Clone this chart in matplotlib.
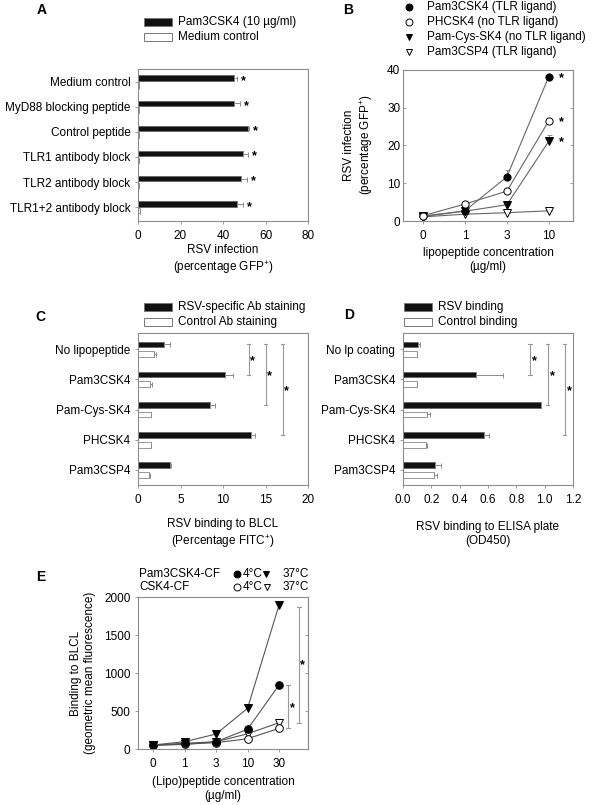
import numpy as np
import matplotlib
matplotlib.use('Agg')
import matplotlib.pyplot as plt
from matplotlib.patches import Rectangle
from matplotlib.lines import Line2D
from matplotlib.ticker import FormatStrFormatter

#%% Data
# A: RSV infection with blocking treatments
conditions_a = ['Medium control', 'MyD88 blocking peptide', 'Control peptide',
                'TLR1 antibody block', 'TLR2 antibody block', 'TLR1+2 antibody block']
pam_a = [45.2, 45.2, 51.9, 49.6, 48.5, 46.4]
pam_a_err = [1.5, 2.8, 0.2, 2.3, 2.6, 2.8]
med_a = [0.4, 0.4, 0.4, 0.5, 0.6, 1.0]
med_a_err = [0.1, 0.1, 0.1, 0.1, 0.1, 0.1]

# B: lipopeptide dose response
conc_b = ['0', '1', '3', '10']
pam3csk4_b = [1.3, 2.7, 11.7, 38.2]
pam3csk4_b_err = [0.2, 0.3, 1.9, 0.4]
phcsk4_b = [1.4, 4.5, 7.9, 26.5]
phcsk4_b_err = [0.2, 0.3, 0.4, 0.4]
pamcys_b = [1.2, 2.6, 4.3, 21.1]
pamcys_b_err = [0.2, 0.3, 0.3, 1.8]
pam3csp4_b = [1.1, 1.8, 2.2, 2.7]
pam3csp4_b_err = [0.1, 0.1, 0.1, 0.2]

# C: RSV binding to BLCL
lipo_c = ['No lipopeptide', 'Pam3CSK4', 'Pam-Cys-SK4', 'PHCSK4', 'Pam3CSP4']
rsv_c = [3.1, 10.2, 8.5, 13.3, 3.8]
rsv_c_err = [0.7, 1.0, 0.6, 0.5, 0.05]
ctrl_c = [1.9, 1.4, 1.5, 1.5, 1.35]
ctrl_c_err = [0.2, 0.2, 0.02, 0.02, 0.02]
sig_c_x = [13.0, 15.0, 17.0]
sig_c_to = [1, 2, 3]

# D: RSV binding to ELISA plate
lipo_d = ['No lp coating', 'Pam3CSK4', 'Pam-Cys-SK4', 'PHCSK4', 'Pam3CSP4']
rsv_d = [0.104, 0.513, 0.974, 0.57, 0.226]
rsv_d_err = [0.016, 0.19, 0.003, 0.04, 0.045]
ctrl_d = [0.099, 0.099, 0.167, 0.162, 0.221]
ctrl_d_err = [0.003, 0.003, 0.023, 0.006, 0.017]
sig_d_x = [0.896, 1.02, 1.14]
sig_d_to = [1, 2, 3]

# E: binding of labelled (lipo)peptides to BLCL
conc_e = ['0', '1', '3', '10', '30']
pam_4c = [52, 75, 96, 260, 842]
pam_37c = [52, 96, 197, 535, 1895]
csk_4c = [50, 65, 83, 135, 272]
csk_37c = [48, 60, 95, 200, 346]
sig_e_x = [4.29, 4.63]

#%% Style
plt.rcParams.update({
    'font.family': ['Liberation Sans', 'DejaVu Sans'],
    'font.size': 8.5,
    'mathtext.fontset': 'custom',
    'mathtext.rm': 'Liberation Sans',
    'mathtext.default': 'regular',
    'axes.edgecolor': '#8c8c8c',
    'axes.linewidth': 0.8,
    'xtick.color': '#8c8c8c',
    'ytick.color': '#8c8c8c',
    'xtick.labelcolor': 'black',
    'ytick.labelcolor': 'black',
    'xtick.major.size': 2.5,
    'ytick.major.size': 2.5,
    'xtick.major.width': 0.6,
    'ytick.major.width': 0.6,
    'xtick.major.pad': 4,
    'ytick.major.pad': 3,
})

W, H = 592, 805
fig = plt.figure(figsize=(W / 100, H / 100), dpi=100)

def fx(x):
    return x / W

def fy(y):
    return 1 - y / H

def px_axes(l, t, r, b):
    return fig.add_axes([fx(l), fy(b), (r - l) / W, (b - t) / H])

def key_box(x, y, text, color):
    # legend key: box with top-left corner at pixel (x, y)
    fig.add_artist(Rectangle((fx(x), fy(y + 8)), 28 / W, 8 / H, transform=fig.transFigure,
                             facecolor=color, edgecolor='#777777', lw=0.7))
    fig.text(fx(x + 34), fy(y + 4), text, ha='left', va='center')

def key_marker(x, y, marker, face, size=5):
    fig.add_artist(Line2D([fx(x)], [fy(y)], marker=marker, mfc=face, mec='black',
                          ms=size, mew=0.7, transform=fig.transFigure))

def label(x, y, text, rotation=0):
    fig.text(fx(x), fy(y), text, ha='center', va='center', rotation=rotation, linespacing=1.3)

def panel(x, y, letter):
    fig.text(fx(x), fy(y), letter, ha='center', va='center', fontsize=10, fontweight='bold')

def right_ticks(ax):
    sec = ax.secondary_yaxis('right')
    sec.tick_params(direction='in', length=2.5, width=0.6, color='#8c8c8c', labelright=False)
    sec.spines['right'].set_color('#8c8c8c')
    sec.spines['right'].set_linewidth(0.8)

def bracket(ax, x, y0, y1, cap, sx, sy):
    ax.plot([x, x], [y0, y1], color='#999999', lw=0.8, clip_on=False)
    ax.plot([x - cap, x + cap], [y0, y0], color='#999999', lw=0.8, clip_on=False)
    ax.plot([x - cap, x + cap], [y1, y1], color='#999999', lw=0.8, clip_on=False)
    ax.text(sx, sy, '*', ha='center', va='center', fontsize=9, fontweight='bold')

err_kw = dict(ecolor='#8c8c8c', capsize=1.8, elinewidth=0.7, capthick=0.7)

#%% Panel A
ax = px_axes(138, 69, 308, 221)
y = np.arange(len(conditions_a))
ax.barh(y - 0.135, pam_a, height=0.22, color='#111111', edgecolor='#555555', lw=0.4,
        xerr=[np.zeros(len(y)), pam_a_err], error_kw=err_kw)
ax.barh(y + 0.135, med_a, height=0.22, color='white', edgecolor='#888888', lw=0.6,
        xerr=[np.zeros(len(y)), med_a_err], error_kw=err_kw)
for i in range(len(y)):
    ax.text(pam_a[i] + pam_a_err[i] + 3.0, y[i] - 0.02, '*', ha='center', va='center',
            fontsize=9, fontweight='bold')
ax.set_yticks(y, conditions_a)
ax.set_ylim(5.55, -0.5)
ax.set_xlim(0, 80)
ax.set_xticks([0, 20, 40, 60, 80])
label(223, 260, 'RSV infection\n(percentage GFP$^{+}$)')
key_box(144, 18, 'Pam3CSK4 (10 µg/ml)', '#111111')
key_box(144, 33, 'Medium control', 'white')
panel(42, 10, 'A')

#%% Panel B
ax = px_axes(403, 70, 573, 221)
x = np.arange(len(conc_b))
series_b = [
    (pam3csp4_b, pam3csp4_b_err, 'v', 'white'),
    (pamcys_b, pamcys_b_err, 'v', 'black'),
    (pam3csk4_b, pam3csk4_b_err, 'o', 'black'),
    (phcsk4_b, phcsk4_b_err, 'o', 'white'),
]
for vals, errs, mk, face in series_b:
    ax.errorbar(x, vals, yerr=[np.zeros(len(x)), errs], color='#666666', lw=0.8,
                marker=mk, mfc=face, mec='black', mew=0.7, ms=5.2, ecolor='#8c8c8c',
                capsize=1.8, elinewidth=0.7, capthick=0.7)
for vals in [pam3csk4_b, phcsk4_b, pamcys_b]:
    ax.text(3.3, vals[-1] - 0.3, '*', ha='center', va='center', fontsize=9, fontweight='bold')
ax.set_xlim(-0.48, 3.58)
ax.set_ylim(0, 40)
ax.set_xticks(x, conc_b)
ax.set_yticks([0, 10, 20, 30, 40])
ax.tick_params(axis='y', direction='in', pad=2)
right_ticks(ax)
label(488, 260, 'lipopeptide concentration\n(µg/ml)')
label(359, 145, 'RSV infection\n(percentage GFP$^{+}$)', rotation=90)
legend_b = [('o', 'black', 'Pam3CSK4 (TLR ligand)'),
            ('o', 'white', 'PHCSK4 (no TLR ligand)'),
            ('v', 'black', 'Pam-Cys-SK4 (no TLR ligand)'),
            ('v', 'white', 'Pam3CSP4 (TLR ligand)')]
for i, (mk, face, txt) in enumerate(legend_b):
    yy = 7 + 15.1 * i
    key_marker(409, yy, mk, face)
    fig.text(fx(427), fy(yy), txt, ha='left', va='center')
panel(348, 10, 'B')

#%% Panel C
ax = px_axes(138, 333, 308, 485)
y = np.arange(len(lipo_c))
ax.barh(y - 0.162, rsv_c, height=0.19, color='#111111', edgecolor='#555555', lw=0.4,
        xerr=[np.zeros(len(y)), rsv_c_err], error_kw=err_kw)
ax.barh(y + 0.162, ctrl_c, height=0.19, color='white', edgecolor='#888888', lw=0.6,
        xerr=[np.zeros(len(y)), ctrl_c_err], error_kw=err_kw)
for sx, k in zip(sig_c_x, sig_c_to):
    bracket(ax, sx, -0.162, k - 0.162, 0.2, sx + 0.5, (k - 0.324) / 2 + 0.05)
ax.set_yticks(y, lipo_c)
ax.set_ylim(4.5, -0.54)
ax.set_xlim(0, 20)
ax.set_xticks([0, 5, 10, 15, 20])
label(223, 534, 'RSV binding to BLCL\n(Percentage FITC$^{+}$)')
key_box(144, 303, 'RSV-specific Ab staining', '#111111')
key_box(144, 318, 'Control Ab staining', 'white')
panel(40, 317, 'C')

#%% Panel D
ax = px_axes(403, 333, 573, 485)
y = np.arange(len(lipo_d))
ax.barh(y - 0.162, rsv_d, height=0.19, color='#111111', edgecolor='#555555', lw=0.4,
        xerr=[np.zeros(len(y)), rsv_d_err], error_kw=err_kw)
ax.barh(y + 0.162, ctrl_d, height=0.19, color='white', edgecolor='#888888', lw=0.6,
        xerr=[np.zeros(len(y)), ctrl_d_err], error_kw=err_kw)
for sx, k in zip(sig_d_x, sig_d_to):
    bracket(ax, sx, -0.162, k - 0.162, 0.012, sx + 0.032, (k - 0.324) / 2 + 0.05)
ax.set_yticks(y, lipo_d)
ax.set_ylim(4.5, -0.54)
ax.set_xlim(0, 1.2)
ax.set_xticks(np.arange(0, 1.21, 0.2))
ax.xaxis.set_major_formatter(FormatStrFormatter('%.1f'))
label(488, 534, 'RSV binding to ELISA plate\n(OD450)')
key_box(404, 303, 'RSV binding', '#111111')
key_box(404, 318, 'Control binding', 'white')
panel(349, 315, 'D')

#%% Panel E
ax = px_axes(138, 597, 308, 749)
x = np.arange(len(conc_e))
series_e = [
    (csk_37c, 'v', 'white'),
    (csk_4c, 'o', 'white'),
    (pam_4c, 'o', 'black'),
    (pam_37c, 'v', 'black'),
]
for vals, mk, face in series_e:
    ax.plot(x, vals, color='#555555', lw=0.8, marker=mk, mfc=face, mec='black', mew=0.7, ms=5.5)
bracket(ax, sig_e_x[0], pam_4c[-1], csk_4c[-1], 0.055, sig_e_x[0] + 0.13,
        (pam_4c[-1] + csk_4c[-1]) / 2 - 20)
bracket(ax, sig_e_x[1], pam_37c[-1] - 25, csk_37c[-1], 0.055, sig_e_x[1] + 0.12,
        (pam_37c[-1] + csk_37c[-1]) / 2 - 20)
ax.set_xlim(-0.48, 4.92)
ax.set_ylim(0, 2000)
ax.set_xticks(x, conc_e)
ax.set_yticks([0, 500, 1000, 1500, 2000])
right_ticks(ax)
label(223, 789, '(Lipo)peptide concentration\n(µg/ml)')
label(83, 673, 'Binding to BLCL\n(geometric mean fluorescence)', rotation=90)
fig.text(fx(139), fy(574), 'Pam3CSK4-CF', ha='left', va='center')
fig.text(fx(139), fy(586.5), 'CSK4-CF', ha='left', va='center')
key_marker(237, 574, 'o', 'black', 5)
key_marker(266, 574, 'v', 'black', 5)
key_marker(237, 586.5, 'o', 'white', 5)
key_marker(267, 586.5, 'v', 'white', 5)
fig.text(fx(242.5), fy(574), '4°C', ha='left', va='center')
fig.text(fx(242.5), fy(586.5), '4°C', ha='left', va='center')
fig.text(fx(283), fy(574), '37°C', ha='left', va='center')
fig.text(fx(283), fy(586.5), '37°C', ha='left', va='center')
panel(41, 577, 'E')

fig.savefig('out.png', dpi=100)
